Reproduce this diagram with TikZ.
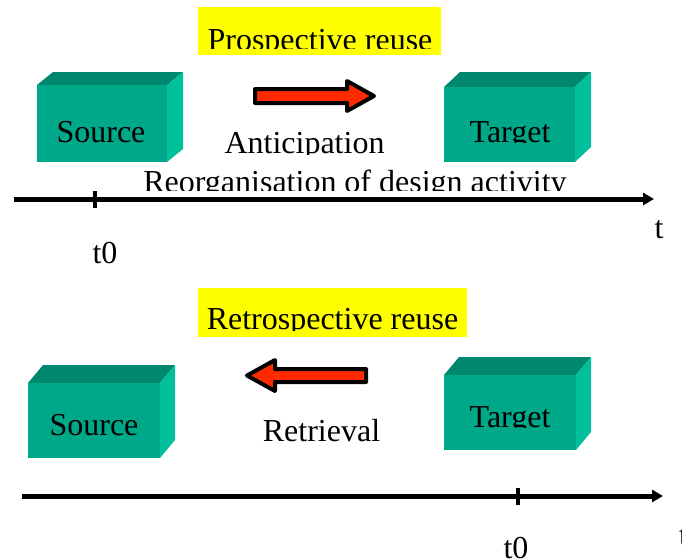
\documentclass[tikz,border=0pt]{standalone}
\usepackage{fontspec}
\setmainfont{Liberation Serif}
\usetikzlibrary{arrows.meta}
\definecolor{frontc}{RGB}{0,168,138}
\definecolor{topc}{RGB}{0,136,110}
\definecolor{sidec}{RGB}{0,192,156}
\definecolor{arrowred}{RGB}{255,42,0}
\definecolor{labelyellow}{RGB}{255,255,0}
\tikzset{
  lbl/.style={font=\fontsize{32}{36}\selectfont, inner sep=0pt, anchor=base, text=black},
  axisline/.style={line width=5pt, -{Triangle[length=11pt,width=12pt]}},
  tickline/.style={line width=4.5pt},
  redarrow/.style={fill=arrowred, draw=black, line width=4pt, line join=round},
  yellowbox/.style={fill=labelyellow, draw=none},
  frontface/.style={fill=frontc, draw=none, inner sep=0pt, anchor=north west},
}
\newcommand\drawblockthree[7]{%
  \fill[topc] (#2,#3) -- ++(#6,-#7) -- (#4+#6,#3-#7) -- (#4,#3) -- cycle;
  \fill[sidec] (#4,#3) -- ++(#6,-#7) -- (#4+#6,#5-#7) -- (#4,#5) -- cycle;
  \node[frontface, minimum width={(#4-#2)*1pt}, minimum height={(#5-#3)*1pt}] (#1) at (#2,#3) {};
}
\begin{document}
\begin{tikzpicture}[x=1pt,y=-1pt]
\useasboundingbox (0,0) rectangle (682,558);

% ---------- top: prospective reuse ----------
\node[yellowbox, anchor=north west, minimum width=243pt, minimum height=48pt, inner sep=0pt] (yelA) at (198,7) {};
\begin{scope}
  \clip (0,0) rectangle (682,48.5);
  \node[lbl] (prosp) at (320,50.5) {Prospective reuse};
\end{scope}

\drawblockthree{srcA}{37}{85}{167}{162}{16}{13}
\drawblockthree{tgtA}{444}{87}{575}{162}{16}{15}
\begin{scope}
  \clip (0,0) rectangle (682,142.3);
  \node[lbl] (srcAtxt) at (101,142) {Source};
  \node[lbl] (tgtAtxt) at (510,142.2) {Target};
\end{scope}

\draw[redarrow] (255,89) -- (347,89) -- (347,81) -- (374,96) -- (347,111) -- (347,103) -- (255,103) -- cycle;

\begin{scope}
  \clip (0,0) rectangle (682,154);
  \node[lbl] (antic) at (304.5,153.8) {Anticipation};
\end{scope}
\begin{scope}
  \clip (0,0) rectangle (682,190.5);
  \node[lbl] (reorg) at (355,192.2) {Reorganisation of design activity};
\end{scope}

\coordinate (axAs) at (14,199);
\coordinate (axAe) at (654,199);
\coordinate (tkA) at (95,199);
\draw[axisline] (axAs) -- (axAe);
\draw[tickline] ([yshift=-8.5pt]tkA) -- ([yshift=8.5pt]tkA);
\node[lbl] (tA) at (659,238) {t};
\node[lbl] (t0A) at (105,263) {t0};

% ---------- bottom: retrospective reuse ----------
\node[yellowbox, anchor=north west, minimum width=269pt, minimum height=49pt, inner sep=0pt] (yelB) at (198,288) {};
\begin{scope}
  \clip (0,0) rectangle (682,330.5);
  \node[lbl] (retro) at (332.5,329.8) {Retrospective reuse};
\end{scope}

\drawblockthree{srcB}{28}{383}{160}{458}{15}{18}
\drawblockthree{tgtB}{444}{375}{576}{450}{15}{18}
\node[lbl] (srcBtxt) at (94,435) {Source};
\begin{scope}
  \clip (0,0) rectangle (682,427.5);
  \node[lbl] (tgtBtxt) at (510,427.2) {Target};
\end{scope}

\draw[redarrow] (247,375.5) -- (275,360) -- (275,369) -- (366,369) -- (366,382) -- (275,382) -- (275,391) -- cycle;
\node[lbl] (retr) at (321.5,441) {Retrieval};

\coordinate (axBs) at (22,496);
\coordinate (axBe) at (663,496);
\coordinate (tkB) at (518,496);
\draw[axisline] (axBs) -- (axBe);
\draw[tickline] ([yshift=-8.5pt]tkB) -- ([yshift=8.5pt]tkB);
\node[lbl] (t0B) at (516,558) {t0};
\node[lbl, anchor=base west] (tB) at (679,545) {t};
\end{tikzpicture}
\end{document}
